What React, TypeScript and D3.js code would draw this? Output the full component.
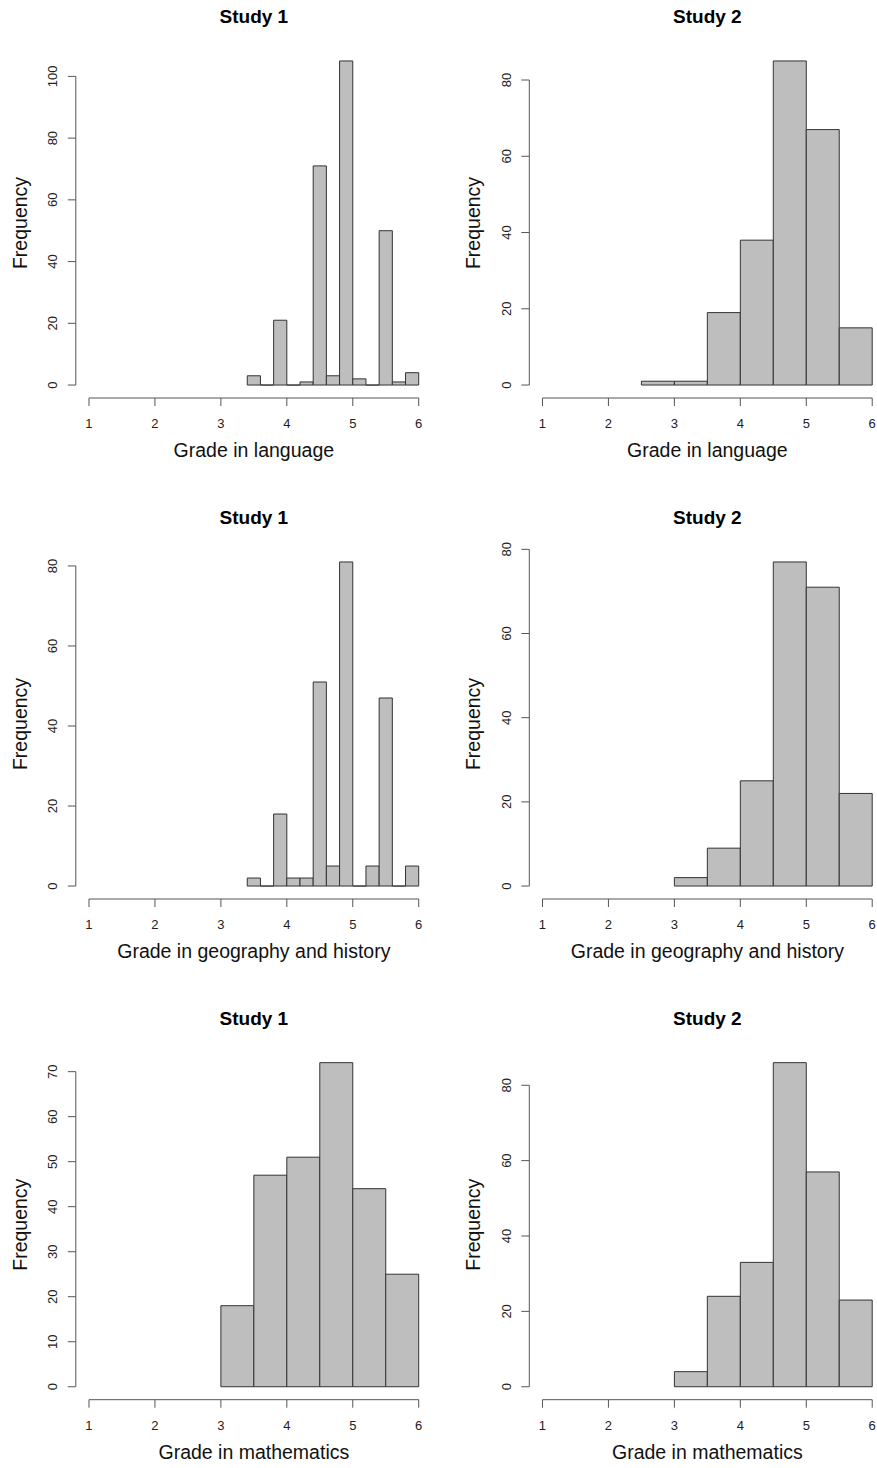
import React from 'react';
import * as d3 from 'd3';

// ---- Data ----
const studies = ['Study 1', 'Study 2'];
const subjectLabels = ['Grade in language', 'Grade in geography and history', 'Grade in mathematics'];

const fineBreaks = [3.4, 3.6, 3.8, 4.0, 4.2, 4.4, 4.6, 4.8, 5.0, 5.2, 5.4, 5.6, 5.8, 6.0];
const halfBreaks = [3.0, 3.5, 4.0, 4.5, 5.0, 5.5, 6.0];
const halfBreaksWide = [2.5, 3.0, 3.5, 4.0, 4.5, 5.0, 5.5, 6.0];

const s1LangCounts = [3, 0, 21, 0, 1, 71, 3, 105, 2, 0, 50, 1, 4];
const s1GeoCounts = [2, 0, 18, 2, 2, 51, 5, 81, 0, 5, 47, 0, 5];
const s1MathCounts = [18, 47, 51, 72, 44, 25];

const s2LangCounts = [1, 1, 19, 38, 85, 67, 15];
const s2GeoCounts = [2, 9, 25, 77, 71, 22];
const s2MathCounts = [4, 24, 33, 86, 57, 23];

const xTicks = [1, 2, 3, 4, 5, 6];
const yTicks20to100 = [0, 20, 40, 60, 80, 100];
const yTicks20to80 = [0, 20, 40, 60, 80];
const yTicks10to70 = [0, 10, 20, 30, 40, 50, 60, 70];

type Panel = { row: number; col: number; breaks: number[]; counts: number[]; yTicks: number[] };

const panels: Panel[] = [
  { row: 0, col: 0, breaks: fineBreaks, counts: s1LangCounts, yTicks: yTicks20to100 },
  { row: 0, col: 1, breaks: halfBreaksWide, counts: s2LangCounts, yTicks: yTicks20to80 },
  { row: 1, col: 0, breaks: fineBreaks, counts: s1GeoCounts, yTicks: yTicks20to80 },
  { row: 1, col: 1, breaks: halfBreaks, counts: s2GeoCounts, yTicks: yTicks20to80 },
  { row: 2, col: 0, breaks: halfBreaks, counts: s1MathCounts, yTicks: yTicks10to70 },
  { row: 2, col: 1, breaks: halfBreaks, counts: s2MathCounts, yTicks: yTicks20to80 },
];

// ---- Layout ----
const W = 877;
const H = 1468;
const colLeft = [75.8, 529.3];
const rowTop = [48, 549, 1049.7];
const plotW = 356.1;
const plotH = 350;
const FONT = '"Liberation Sans", Arial, Helvetica, sans-serif';
const BAR_FILL = '#BEBEBE';
const BAR_STROKE = '#333333';
const AXIS = '#555555';

function HistPanel({ p }: { p: Panel }) {
  const left = colLeft[p.col];
  const top = rowTop[p.row];
  const bottom = top + plotH;
  const maxC = d3.max(p.counts) as number;
  const xs = d3.scaleLinear().domain([0.8, 6.2]).range([left, left + plotW]);
  const ys = d3.scaleLinear().domain([-0.04 * maxC, 1.04 * maxC]).range([bottom, top]);
  const cx = left + plotW / 2;
  const lastTick = p.yTicks[p.yTicks.length - 1];
  return (
    <g>
      <text x={cx} y={top - 24.7} textAnchor="middle" fontFamily={FONT} fontWeight="bold" fontSize={19} fill="#000">
        {studies[p.col]}
      </text>
      {p.counts.map((c, i) => {
        const x0 = xs(p.breaks[i]);
        const x1 = xs(p.breaks[i + 1]);
        const y0 = ys(0);
        const y1 = ys(c);
        return (
          <path
            key={i}
            d={`M${x0},${y0}V${y1}H${x1}V${y0}Z`}
            fill={BAR_FILL}
            stroke={BAR_STROKE}
            strokeWidth={1}
          />
        );
      })}
      {/* x axis */}
      <line x1={xs(xTicks[0])} x2={xs(xTicks[xTicks.length - 1])} y1={bottom} y2={bottom} stroke={AXIS} strokeWidth={1} />
      {xTicks.map((t) => (
        <g key={'x' + t}>
          <line x1={xs(t)} x2={xs(t)} y1={bottom} y2={bottom + 8} stroke={AXIS} strokeWidth={1} />
          <text x={xs(t)} y={bottom + 30} textAnchor="middle" fontFamily={FONT} fontSize={13} fill="#222">
            {t}
          </text>
        </g>
      ))}
      {/* y axis */}
      <line x1={left} x2={left} y1={ys(0)} y2={ys(lastTick)} stroke={AXIS} strokeWidth={1} />
      {p.yTicks.map((t) => (
        <g key={'y' + t}>
          <line x1={left - 8} x2={left} y1={ys(t)} y2={ys(t)} stroke={AXIS} strokeWidth={1} />
          <text
            transform={`translate(${left - 18.7},${ys(t)}) rotate(-90)`}
            textAnchor="middle"
            fontFamily={FONT}
            fontSize={13}
            fill="#222"
          >
            {t}
          </text>
        </g>
      ))}
      <text x={cx} y={bottom + 59} textAnchor="middle" fontFamily={FONT} fontSize={19.5} fill="#111">
        {subjectLabels[p.row]}
      </text>
      <text
        transform={`translate(${left - 49},${top + plotH / 2}) rotate(-90)`}
        textAnchor="middle"
        fontFamily={FONT}
        fontSize={19.5}
        fill="#111"
      >
        Frequency
      </text>
    </g>
  );
}

export default function App() {
  return (
    <svg
      width={W}
      height={H}
      viewBox={`0 0 ${W} ${H}`}
      style={{ position: 'absolute', left: 0, top: 0, background: '#fff', display: 'block' }}
    >
      <rect x={0} y={0} width={W} height={H} fill="#fff" />
      {panels.map((p, i) => (
        <HistPanel key={i} p={p} />
      ))}
    </svg>
  );
}
